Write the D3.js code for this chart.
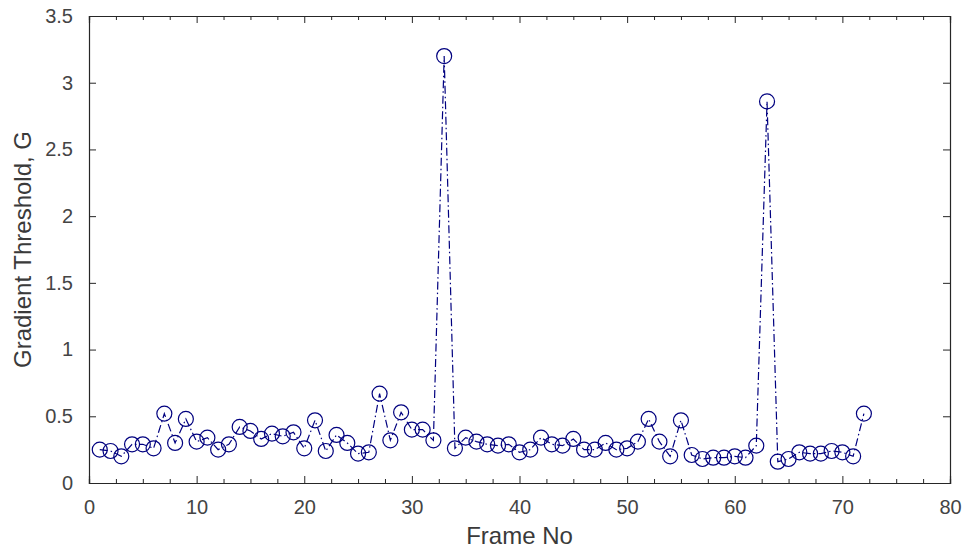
<!DOCTYPE html>
<html>
<head>
<meta charset="utf-8">
<script src="https://cdn.jsdelivr.net/npm/d3@7"></script>
<style>
  body { margin: 0; background: #fff; }
  text { font-family: "Liberation Sans", Arial, sans-serif; }
</style>
</head>
<body>
<div id="chart"></div>
<script>
// data
var frames = [1,2,3,4,5,6,7,8,9,10,11,12,13,14,15,16,17,18,19,20,21,22,23,24,
  25,26,27,28,29,30,31,32,33,34,35,36,37,38,39,40,41,42,43,44,45,46,47,48,
  49,50,51,52,53,54,55,56,57,58,59,60,61,62,63,64,65,66,67,68,69,70,71,72];
var threshold = [0.25,0.24,0.20,0.29,0.29,0.26,0.52,0.30,0.48,0.31,0.34,0.25,
  0.29,0.42,0.39,0.33,0.37,0.35,0.38,0.26,0.47,0.24,0.36,0.30,0.22,0.23,0.67,0.32,
  0.53,0.40,0.40,0.32,3.20,0.26,0.34,0.31,0.29,0.28,0.29,0.23,0.25,0.34,0.29,0.28,
  0.33,0.25,0.25,0.30,0.25,0.26,0.31,0.48,0.31,0.20,0.47,0.21,0.18,0.19,0.19,0.20,
  0.19,0.28,2.86,0.16,0.18,0.23,0.22,0.22,0.24,0.23,0.20,0.52];
var xTicks = [0,10,20,30,40,50,60,70,80];
var xMinor = [2.5,5,7.5,12.5,15,17.5,22.5,25,27.5,32.5,35,37.5,42.5,45,47.5,
  52.5,55,57.5,62.5,65,67.5,72.5,75,77.5];
var yTicks = [0,0.5,1,1.5,2,2.5,3,3.5];
var yTickLabels = ["0","0.5","1","1.5","2","2.5","3","3.5"];

var data = frames.map(function(f, i) { return {frame: f, value: threshold[i]}; });

// set the dimensions and margins of the graph
var margin = {top: 16, right: 16, bottom: 67, left: 89},
    width = 966 - margin.left - margin.right,
    height = 550 - margin.top - margin.bottom;

var svg = d3.select("#chart")
  .append("svg")
    .attr("width", 966)
    .attr("height", 550)
  .append("g")
    .attr("transform", "translate(" + margin.left + "," + margin.top + ")");

var x = d3.scaleLinear().domain([0, 80]).range([0, width]);
var y = d3.scaleLinear().domain([0, 3.5]).range([height, 0]);

var axisColor = "#262626";

// bottom axis, ticks point inward
svg.append("g")
  .attr("transform", "translate(0," + height + ")")
  .call(d3.axisBottom(x).tickValues(xTicks).tickSize(-7).tickPadding(17)
    .tickFormat(d3.format("d")));
// top axis, ticks only
svg.append("g")
  .call(d3.axisTop(x).tickValues(xTicks).tickSize(-7).tickFormat(""));
// minor ticks top and bottom
svg.append("g")
  .attr("transform", "translate(0," + height + ")")
  .call(d3.axisBottom(x).tickValues(xMinor).tickSize(-4).tickFormat(""));
svg.append("g")
  .call(d3.axisTop(x).tickValues(xMinor).tickSize(-4).tickFormat(""));

// left axis
svg.append("g")
  .call(d3.axisLeft(y).tickValues(yTicks).tickSize(-7).tickPadding(16)
    .tickFormat(function(d, i) { return yTickLabels[i]; }));
// right axis
svg.append("g")
  .attr("transform", "translate(" + width + ",0)")
  .call(d3.axisRight(y).tickValues(yTicks).tickSize(-7).tickFormat(""));

svg.selectAll(".domain").attr("stroke", axisColor).attr("stroke-width", 1.2);
svg.selectAll(".tick line").attr("stroke", axisColor);
svg.selectAll(".tick text")
  .attr("fill", "#444")
  .style("font-size", "20px")
  .style("font-family", "'Liberation Sans', Arial, sans-serif");

// axis labels
svg.append("text")
  .attr("x", width / 2)
  .attr("y", height + 61)
  .attr("text-anchor", "middle")
  .attr("fill", "#3a3a3a")
  .style("font-size", "24px")
  .text("Frame No");
svg.append("text")
  .attr("transform", "translate(" + (-58) + "," + (height / 2) + ") rotate(-90)")
  .attr("text-anchor", "middle")
  .attr("fill", "#3a3a3a")
  .style("font-size", "24px")
  .text("Gradient Threshold, G");

// Add the line (dash-dot)
var navy = "#00007f";
svg.append("path")
  .datum(data)
  .attr("fill", "none")
  .attr("stroke", navy)
  .attr("stroke-width", 1.2)
  .attr("stroke-dasharray", "8,3,1.5,3")
  .attr("d", d3.line()
    .x(function(d) { return x(d.frame); })
    .y(function(d) { return y(d.value); }));

// Add the points
svg.append("g")
  .selectAll("circle")
  .data(data)
  .enter()
  .append("circle")
    .attr("cx", function(d) { return x(d.frame); })
    .attr("cy", function(d) { return y(d.value); })
    .attr("r", 7.5)
    .attr("fill", "none")
    .attr("stroke", navy)
    .attr("stroke-width", 1.2);
</script>
</body>
</html>
